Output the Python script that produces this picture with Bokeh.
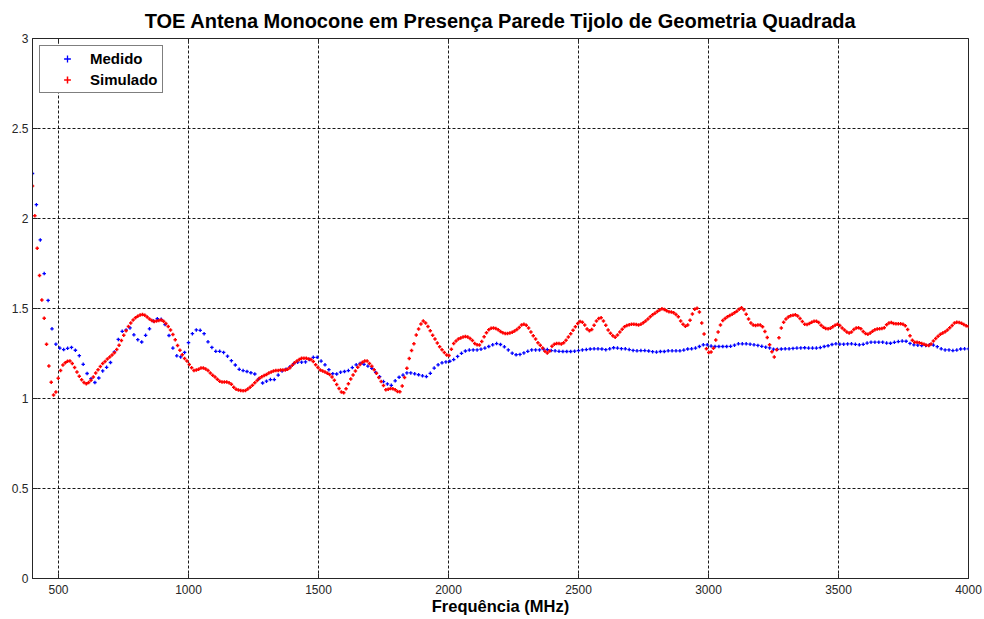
import numpy as np
from bokeh.plotting import figure
from bokeh.models import (ColumnDataSource, Range1d, FixedTicker, NumeralTickFormatter,
                          Legend, LegendItem)
from bokeh.embed import file_html
from bokeh.resources import INLINE

title_text = "TOE Antena Monocone em Presença Parede Tijolo de Geometria Quadrada"
x_label = "Frequência (MHz)"
series_names = ["Medido", "Simulado"]
series_colors = ["blue", "red"]
x_ticks = [500, 1000, 1500, 2000, 2500, 3000, 3500, 4000]
y_ticks = [0, 0.5, 1, 1.5, 2, 2.5, 3]
x_limits = (400, 4000)
y_limits = (0, 3)

# frequency sampling of each series (MHz)
medido_f0, medido_step = 400, 15
simulado_f0, simulado_step = 400, 9

medido = [
    2.25, 2.077, 1.881, 1.694, 1.545, 1.387, 1.302, 1.28, 1.272, 1.279,
    1.284, 1.268, 1.238, 1.19, 1.139, 1.11, 1.089, 1.114, 1.153, 1.173,
    1.2, 1.259, 1.328, 1.373, 1.381, 1.392, 1.354, 1.327, 1.314, 1.351,
    1.387, 1.43, 1.443, 1.44, 1.411, 1.35, 1.28, 1.237, 1.231, 1.256,
    1.31, 1.36, 1.381, 1.379, 1.36, 1.315, 1.284, 1.262, 1.262, 1.256,
    1.235, 1.21, 1.186, 1.162, 1.155, 1.15, 1.143, 1.136, 1.109, 1.086,
    1.096, 1.105, 1.105, 1.13, 1.153, 1.163, 1.176, 1.194, 1.202, 1.202,
    1.203, 1.217, 1.229, 1.229, 1.208, 1.187, 1.16, 1.138, 1.136, 1.146,
    1.15, 1.155, 1.172, 1.187, 1.195, 1.19, 1.18, 1.168, 1.145, 1.121,
    1.094, 1.081, 1.073, 1.098, 1.118, 1.13, 1.142, 1.142, 1.137, 1.132,
    1.126, 1.122, 1.14, 1.169, 1.187, 1.198, 1.203, 1.207, 1.216, 1.234,
    1.251, 1.264, 1.269, 1.27, 1.27, 1.274, 1.28, 1.289, 1.298, 1.305,
    1.3, 1.287, 1.27, 1.252, 1.243, 1.245, 1.253, 1.262, 1.27, 1.27,
    1.27, 1.275, 1.272, 1.266, 1.265, 1.262, 1.261, 1.261, 1.261, 1.263,
    1.266, 1.27, 1.272, 1.275, 1.276, 1.276, 1.275, 1.271, 1.276, 1.282,
    1.28, 1.277, 1.276, 1.272, 1.267, 1.265, 1.266, 1.266, 1.264, 1.26,
    1.258, 1.261, 1.261, 1.265, 1.265, 1.265, 1.265, 1.269, 1.275, 1.276,
    1.28, 1.289, 1.298, 1.298, 1.291, 1.289, 1.289, 1.289, 1.289, 1.29,
    1.296, 1.304, 1.304, 1.304, 1.302, 1.298, 1.295, 1.29, 1.285, 1.281,
    1.274, 1.273, 1.275, 1.276, 1.276, 1.278, 1.28, 1.281, 1.282, 1.28,
    1.28, 1.28, 1.283, 1.289, 1.293, 1.3, 1.304, 1.302, 1.302, 1.303,
    1.304, 1.301, 1.298, 1.301, 1.308, 1.313, 1.313, 1.313, 1.313, 1.308,
    1.307, 1.312, 1.316, 1.319, 1.318, 1.306, 1.298, 1.296, 1.294, 1.295,
    1.298, 1.297, 1.288, 1.276, 1.27, 1.27, 1.266, 1.269, 1.275, 1.276,
    1.276,
]

simulado = [
    2.18, 2.015, 1.835, 1.683, 1.547, 1.446, 1.302, 1.18, 1.09, 1.02,
    1.036, 1.112, 1.155, 1.186, 1.199, 1.207, 1.209, 1.195, 1.172, 1.147,
    1.124, 1.104, 1.089, 1.082, 1.089, 1.102, 1.119, 1.141, 1.16, 1.178,
    1.194, 1.206, 1.219, 1.231, 1.242, 1.254, 1.272, 1.296, 1.322, 1.351,
    1.377, 1.4, 1.419, 1.436, 1.448, 1.457, 1.464, 1.466, 1.462, 1.453,
    1.442, 1.434, 1.428, 1.43, 1.434, 1.436, 1.429, 1.417, 1.4, 1.381,
    1.355, 1.327, 1.295, 1.268, 1.243, 1.222, 1.208, 1.189, 1.171, 1.156,
    1.158, 1.163, 1.169, 1.169, 1.164, 1.155, 1.141, 1.129, 1.119, 1.107,
    1.096, 1.091, 1.091, 1.091, 1.088, 1.079, 1.063, 1.052, 1.047, 1.044,
    1.043, 1.044, 1.053, 1.063, 1.073, 1.087, 1.1, 1.112, 1.121, 1.128,
    1.134, 1.141, 1.147, 1.153, 1.156, 1.156, 1.158, 1.159, 1.159, 1.163,
    1.171, 1.185, 1.198, 1.208, 1.216, 1.223, 1.224, 1.223, 1.22, 1.217,
    1.206, 1.188, 1.172, 1.159, 1.153, 1.147, 1.14, 1.133, 1.12, 1.101,
    1.078, 1.056, 1.036, 1.032, 1.054, 1.082, 1.108, 1.13, 1.153, 1.174,
    1.189, 1.202, 1.209, 1.208, 1.195, 1.179, 1.16, 1.14, 1.117, 1.094,
    1.072, 1.048, 1.051, 1.055, 1.054, 1.048, 1.039, 1.037, 1.07, 1.116,
    1.168, 1.222, 1.266, 1.304, 1.353, 1.386, 1.414, 1.43, 1.42, 1.4,
    1.377, 1.352, 1.33, 1.308, 1.288, 1.271, 1.256, 1.241, 1.239, 1.273,
    1.305, 1.32, 1.33, 1.336, 1.341, 1.344, 1.342, 1.334, 1.322, 1.306,
    1.298, 1.297, 1.317, 1.343, 1.365, 1.382, 1.39, 1.391, 1.389, 1.382,
    1.372, 1.365, 1.361, 1.361, 1.364, 1.368, 1.375, 1.384, 1.395, 1.408,
    1.413, 1.407, 1.392, 1.369, 1.349, 1.331, 1.31, 1.296, 1.28, 1.262,
    1.253, 1.264, 1.29, 1.302, 1.306, 1.305, 1.303, 1.31, 1.323, 1.341,
    1.36, 1.379, 1.398, 1.416, 1.428, 1.423, 1.408, 1.386, 1.376, 1.384,
    1.407, 1.43, 1.444, 1.448, 1.431, 1.407, 1.381, 1.362, 1.348, 1.34,
    1.353, 1.369, 1.385, 1.399, 1.405, 1.41, 1.413, 1.413, 1.411, 1.409,
    1.412, 1.421, 1.431, 1.442, 1.454, 1.465, 1.474, 1.484, 1.492, 1.498,
    1.494, 1.488, 1.482, 1.48, 1.476, 1.467, 1.454, 1.431, 1.413, 1.401,
    1.408, 1.435, 1.469, 1.496, 1.502, 1.48, 1.42, 1.358, 1.277, 1.256,
    1.258, 1.279, 1.325, 1.369, 1.409, 1.434, 1.445, 1.454, 1.461, 1.468,
    1.476, 1.485, 1.496, 1.504, 1.493, 1.468, 1.441, 1.419, 1.408, 1.405,
    1.409, 1.409, 1.399, 1.372, 1.339, 1.298, 1.26, 1.23, 1.271, 1.338,
    1.391, 1.424, 1.442, 1.453, 1.46, 1.463, 1.465, 1.459, 1.444, 1.428,
    1.412, 1.411, 1.416, 1.423, 1.429, 1.429, 1.422, 1.407, 1.396, 1.389,
    1.387, 1.39, 1.398, 1.407, 1.412, 1.405, 1.392, 1.381, 1.369, 1.364,
    1.369, 1.384, 1.391, 1.393, 1.388, 1.372, 1.361, 1.357, 1.364, 1.374,
    1.382, 1.386, 1.387, 1.389, 1.393, 1.41, 1.42, 1.422, 1.417, 1.415,
    1.415, 1.415, 1.412, 1.404, 1.383, 1.348, 1.323, 1.313, 1.313, 1.31,
    1.306, 1.302, 1.296, 1.294, 1.303, 1.319, 1.334, 1.346, 1.357, 1.364,
    1.371, 1.38, 1.393, 1.406, 1.419, 1.423, 1.422, 1.418, 1.411, 1.404,
    1.4,
]

freq_medido = medido_f0 + medido_step * np.arange(len(medido))
freq_simulado = simulado_f0 + simulado_step * np.arange(len(simulado))

FONT = "Liberation Sans"
AX = "#262626"

p = figure(width=984, height=619, output_backend="svg", toolbar_location=None,
           x_range=Range1d(*x_limits), y_range=Range1d(*y_limits),
           title=title_text,
           min_border_left=32, min_border_right=16, min_border_top=37, min_border_bottom=41)
p.background_fill_color = "white"
p.border_fill_color = "white"
p.outline_line_color = AX
p.outline_line_width = 1

p.title.text_font = FONT
p.title.text_font_size = "20px"
p.title.text_font_style = "bold"
p.title.align = "center"
p.title.text_color = "black"
p.title.standoff = 14

for ax in (p.xaxis[0], p.yaxis[0]):
    ax.axis_line_color = AX
    ax.major_tick_line_color = AX
    ax.major_tick_in = 5
    ax.major_tick_out = 0
    ax.minor_tick_line_color = None
    ax.major_label_text_font = FONT
    ax.major_label_text_font_size = "12px"
    ax.major_label_text_color = AX

p.xaxis[0].major_label_standoff = 6
p.yaxis[0].major_label_standoff = 4
p.xaxis[0].ticker = FixedTicker(ticks=x_ticks)
p.yaxis[0].ticker = FixedTicker(ticks=y_ticks)
p.yaxis[0].formatter = NumeralTickFormatter(format="0.[0]")
p.xaxis[0].axis_label = x_label
p.xaxis[0].axis_label_text_font = FONT
p.xaxis[0].axis_label_text_font_size = "16.5px"
p.xaxis[0].axis_label_text_font_style = "bold"
p.xaxis[0].axis_label_text_color = "black"
p.xaxis[0].axis_label_standoff = 0

p.xgrid.ticker = FixedTicker(ticks=x_ticks)
p.ygrid.ticker = FixedTicker(ticks=y_ticks)
for g in (p.xgrid[0], p.ygrid[0]):
    g.grid_line_color = "black"
    g.grid_line_dash = "3 2"
    g.grid_line_width = 1
    g.grid_line_alpha = 0.9

# mirrored inner ticks on the top and right edges (clipped to the frame)
top_src = ColumnDataSource(dict(x=x_ticks, y=[y_limits[1]] * len(x_ticks)))
right_src = ColumnDataSource(dict(x=[x_limits[1]] * len(y_ticks), y=y_ticks))
p.scatter("x", "y", source=top_src, marker="dash", size=10, angle=np.pi / 2,
          line_color=AX, line_width=1)
p.scatter("x", "y", source=right_src, marker="dash", size=10, angle=0,
          line_color=AX, line_width=1)

src_m = ColumnDataSource(dict(x=freq_medido, y=medido))
src_s = ColumnDataSource(dict(x=freq_simulado, y=simulado))
r_m = p.scatter("x", "y", source=src_m, marker="cross", size=3.5, line_width=1.3,
                color=series_colors[0])
r_s = p.scatter("x", "y", source=src_s, marker="cross", size=3.5, line_width=1.5,
                color=series_colors[1])

legend = Legend(items=[LegendItem(label=series_names[0], renderers=[r_m]),
                       LegendItem(label=series_names[1], renderers=[r_s])],
                location="top_left")
legend.border_line_color = "black"
legend.border_line_width = 1
legend.background_fill_color = "white"
legend.background_fill_alpha = 1
legend.label_text_font = FONT
legend.label_text_font_style = "bold"
legend.label_text_font_size = "15px"
legend.label_text_color = "black"
legend.margin = 7
legend.padding = 4
legend.spacing = 4
legend.glyph_width = 46
legend.glyph_height = 17
legend.label_height = 17
legend.label_standoff = 0
p.add_layout(legend)

open("out.html", "w").write(file_html(p, INLINE))
